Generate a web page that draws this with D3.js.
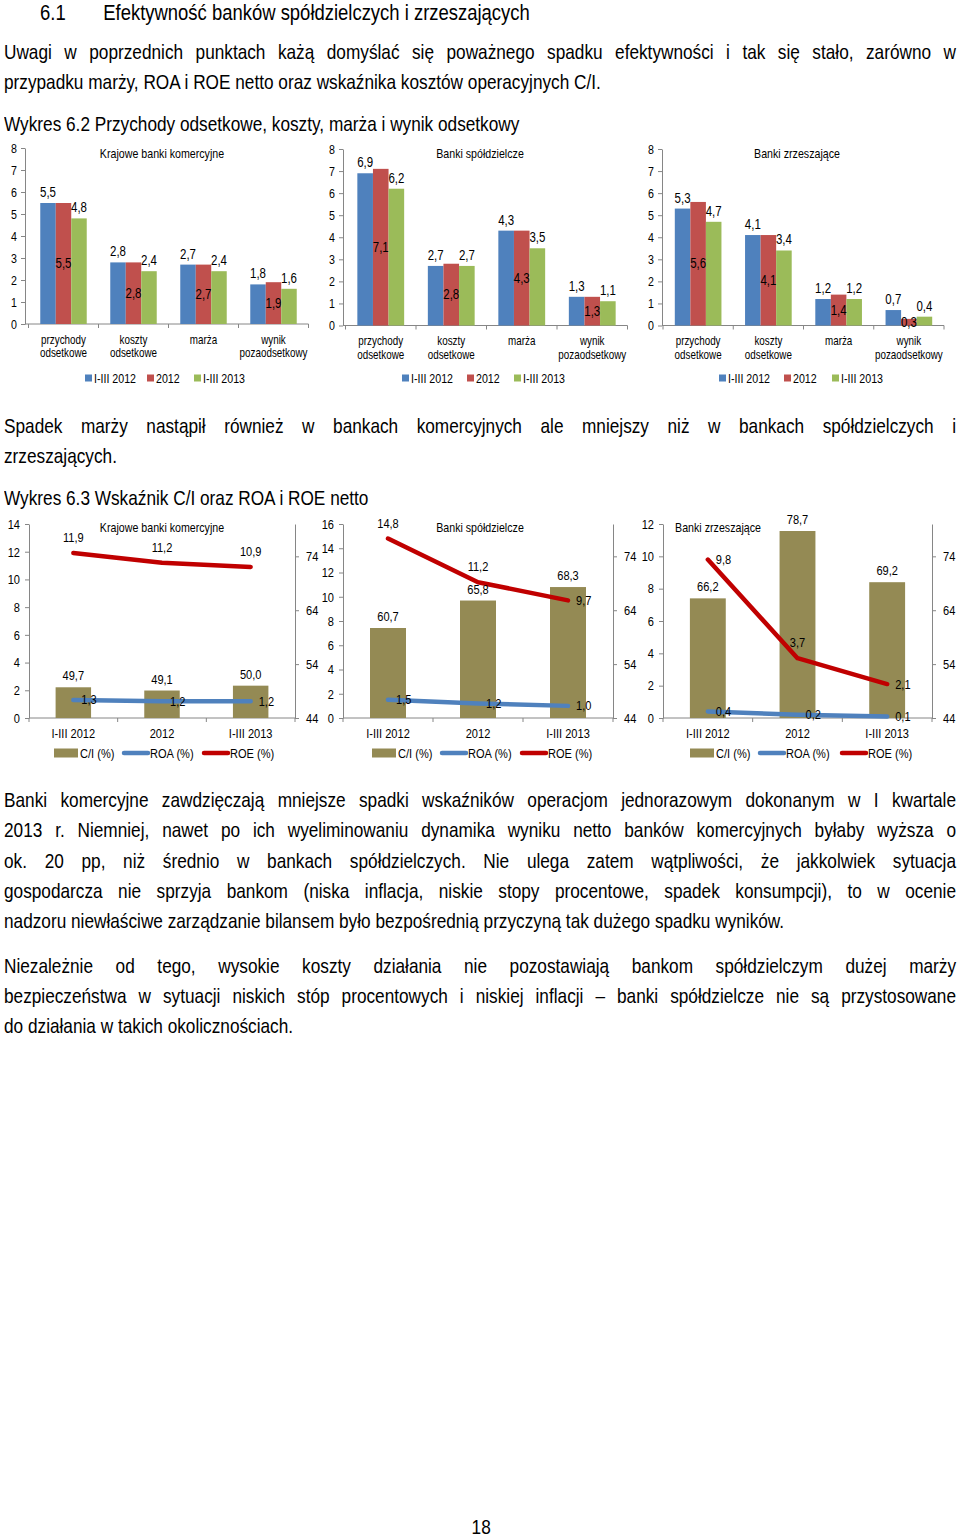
<!DOCTYPE html>
<html><head><meta charset="utf-8">
<script src="https://cdn.jsdelivr.net/npm/d3@7"></script>
<style>
body{margin:0;background:#fff;}
#page{position:relative;width:960px;height:1537px;overflow:hidden;background:#fff;font-family:"Liberation Sans",Arial,sans-serif;color:#000;}
.ln{position:absolute;left:4px;width:1161px;font-size:21px;line-height:30px;white-space:nowrap;transform:scaleX(0.82);transform-origin:0 0;}
.j{text-align:justify;text-align-last:justify;white-space:normal;}
svg{position:absolute;left:0;top:0;}
</style>
</head><body>
<div id="page">
<div class="ln" style="top:0px;font-size:22.5px;line-height:26px;height:26px;"><span style="position:absolute;left:44px">6.1</span><span style="position:absolute;left:121px">Efektywność banków spółdzielczych i zrzeszających</span></div>
<div class="ln j" style="top:37px">Uwagi w poprzednich punktach każą domyślać się poważnego spadku efektywności i tak się stało, zarówno w</div>
<div class="ln" style="top:67px">przypadku marży, ROA i ROE netto oraz wskaźnika kosztów operacyjnych C/I.</div>
<div class="ln" style="top:109px">Wykres 6.2 Przychody odsetkowe, koszty, marża i wynik odsetkowy</div>
<div class="ln j" style="top:411px">Spadek marży nastąpił również w bankach komercyjnych ale mniejszy niż w bankach spółdzielczych i</div>
<div class="ln" style="top:441px">zrzeszających.</div>
<div class="ln" style="top:483px">Wykres 6.3 Wskaźnik C/I oraz ROA i ROE netto</div>
<div class="ln j" style="top:785px">Banki komercyjne zawdzięczają mniejsze spadki wskaźników operacjom jednorazowym dokonanym w I kwartale</div>
<div class="ln j" style="top:815px">2013 r. Niemniej, nawet po ich wyeliminowaniu dynamika wyniku netto banków komercyjnych byłaby wyższa o</div>
<div class="ln j" style="top:846px">ok. 20 pp, niż średnio w bankach spółdzielczych. Nie ulega zatem wątpliwości, że jakkolwiek sytuacja</div>
<div class="ln j" style="top:876px">gospodarcza nie sprzyja bankom (niska inflacja, niskie stopy procentowe, spadek konsumpcji), to w ocenie</div>
<div class="ln" style="top:906px">nadzoru niewłaściwe zarządzanie bilansem było bezpośrednią przyczyną tak dużego spadku wyników.</div>
<div class="ln j" style="top:951px">Niezależnie od tego, wysokie koszty działania nie pozostawiają bankom spółdzielczym dużej marży</div>
<div class="ln j" style="top:981px">bezpieczeństwa w sytuacji niskich stóp procentowych i niskiej inflacji – banki spółdzielcze nie są przystosowane</div>
<div class="ln" style="top:1011px">do działania w takich okolicznościach.</div>
<div class="ln" style="top:1518px;left:459px;width:54px;text-align:center;line-height:18px;height:18px;">18</div>
</div>
<script>
// ---------- DATA ----------
const groups = ["przychody odsetkowe", "koszty odsetkowe", "marża", "wynik pozaodsetkowy"];
const groupLabelLines = [["przychody", "odsetkowe"], ["koszty", "odsetkowe"], ["marża"], ["wynik", "pozaodsetkowy"]];
const seriesNames = ["I-III 2012", "2012", "I-III 2013"];
const panelTitles = ["Krajowe banki komercyjne", "Banki spółdzielcze", "Banki zrzeszające"];
const komercyjne = [[5.5, 2.8, 2.7, 1.8], [5.5, 2.8, 2.7, 1.9], [4.8, 2.4, 2.4, 1.6]];
const spoldzielcze = [[6.9, 2.7, 4.3, 1.3], [7.1, 2.8, 4.3, 1.3], [6.2, 2.7, 3.5, 1.1]];
const zrzeszajace = [[5.3, 4.1, 1.2, 0.7], [5.6, 4.1, 1.4, 0.3], [4.7, 3.4, 1.2, 0.4]];
const topTicks = [0, 1, 2, 3, 4, 5, 6, 7, 8];

const periods = ["I-III 2012", "2012", "I-III 2013"];
const ciKom = [49.7, 49.1, 50.0], roaKom = [1.3, 1.2, 1.2], roeKom = [11.9, 11.2, 10.9];
const ciSp = [60.7, 65.8, 68.3], roaSp = [1.5, 1.2, 1.0], roeSp = [14.8, 11.2, 9.7];
const ciZrz = [66.2, 78.7, 69.2], roaZrz = [0.4, 0.2, 0.1], roeZrz = [9.8, 3.7, 2.1];
const leftMax = [14, 16, 12];
const rightTicks = [44, 54, 64, 74];
const rightDomain = [44, 80];
const legendNames = ["C/I (%)", "ROA (%)", "ROE (%)"];

// ---------- LAYOUT / STYLE ----------
const FONT = '"Liberation Sans",Arial,sans-serif';
const SX = 0.82; // narrow (Arial Narrow-like) horizontal scale
const AX = '#868686';
const seriesColors = ['#4F81BD', '#C0504D', '#9BBB59'];
const labelMode = ['above', 'middle', 'above'];
const topLayout = [
  {axisX: 25, band: [28.5, 308.5], y0: 324, y8: 148, titleX: 162, legendX: [85, 147, 194]},
  {axisX: 343, band: [345.5, 627.5], y0: 325.5, y8: 149, titleX: 480, legendX: [402, 467, 514]},
  {axisX: 662, band: [663, 944], y0: 325.5, y8: 149, titleX: 797, legendX: [719, 784, 832]}
];
const botLayout = [
  {left: 29, right: 295, titleX: 162, legendX: [54, 124, 204]},
  {left: 343, right: 613, titleX: 480, legendX: [372, 442, 522]},
  {left: 663, right: 932, titleX: 718, legendX: [690, 760, 842]}
];
const roeLabelPos = [['above', 'above', 'above'], ['above', 'above', 'right'], ['right', 'above', 'right']];
const OLIVE = '#948A54', ROA_C = '#4F81BD', ROE_C = '#C00000';
const fmt = v => d3.format('.1f')(v).replace('.', ',');
const tr = (x, y) => `translate(${x},${y}) scale(${SX},1)`;

const svg = d3.select('#page').append('svg').attr('width', 960).attr('height', 1537)
  .style('font-family', FONT);

function T(g, x, y, s, size, anchor) {
  return g.append('text').attr('transform', tr(x, y)).attr('text-anchor', anchor || 'start')
    .attr('font-size', size).text(s);
}
function styleAxis(g, size) {
  g.select('.domain').attr('stroke', AX);
  g.selectAll('.tick line').attr('stroke', AX);
  g.selectAll('.tick text').attr('fill', '#000').attr('font-size', size).attr('font-family', FONT)
    .each(function () {
      const t = d3.select(this);
      const x = +t.attr('x');
      t.attr('x', x / SX).attr('transform', `scale(${SX},1)`);
    });
}

// ---------- TOP CHARTS ----------
[komercyjne, spoldzielcze, zrzeszajace].forEach((data, pi) => {
  const L = topLayout[pi];
  const g = svg.append('g');
  const y = d3.scaleLinear().domain([0, 8]).range([L.y0, L.y8]);
  const x0 = d3.scaleBand().domain(groups).range(L.band).paddingInner(0.336).paddingOuter(0.168);
  const x1 = d3.scaleBand().domain(d3.range(seriesNames.length)).range([0, x0.bandwidth()]);

  const ya = g.append('g').attr('transform', `translate(${L.axisX},0)`)
    .call(d3.axisLeft(y).tickValues(topTicks).tickSize(4).tickSizeOuter(0).tickPadding(4).tickFormat(d3.format('d')));
  styleAxis(ya, 13);

  g.append('line').attr('x1', L.axisX).attr('x2', L.band[1]).attr('y1', L.y0).attr('y2', L.y0).attr('stroke', AX);
  g.selectAll('.xt').data(d3.range(groups.length + 1)).join('line')
    .attr('x1', k => L.band[0] + k * x0.step()).attr('x2', k => L.band[0] + k * x0.step())
    .attr('y1', L.y0).attr('y2', L.y0 + 4).attr('stroke', AX);

  data.forEach((vals, s) => {
    g.selectAll('.b' + s).data(vals).join('rect')
      .attr('x', (v, j) => x0(groups[j]) + x1(s))
      .attr('y', v => y(v))
      .attr('width', x1.bandwidth())
      .attr('height', v => y(0) - y(v))
      .attr('fill', seriesColors[s]);
  });
  data.forEach((vals, s) => {
    g.selectAll('.l' + s).data(vals).join('text')
      .attr('transform', (v, j) => tr(x0(groups[j]) + x1(s) + x1.bandwidth() / 2,
        labelMode[s] === 'above' ? y(v) - 6 : (y(v) + y(0)) / 2 + 4.5))
      .attr('text-anchor', 'middle').attr('font-size', 14)
      .text(v => fmt(v));
  });

  groupLabelLines.forEach((lines, j) => {
    lines.forEach((t, li) => {
      T(g, x0(groups[j]) + x0.bandwidth() / 2, L.y0 + 19.5 + li * 13.5, t, 12, 'middle');
    });
  });

  T(g, L.titleX, 157.5, panelTitles[pi], 13, 'middle');

  seriesNames.forEach((n, s) => {
    g.append('rect').attr('x', L.legendX[s]).attr('y', 374.5).attr('width', 7).attr('height', 7).attr('fill', seriesColors[s]);
    T(g, L.legendX[s] + 9, 382.5, n, 13);
  });
});

// ---------- BOTTOM CHARTS ----------
const botData = [[ciKom, roaKom, roeKom], [ciSp, roaSp, roeSp], [ciZrz, roaZrz, roeZrz]];
botData.forEach(([ci, roa, roe], pi) => {
  const L = botLayout[pi];
  const g = svg.append('g');
  const yL = d3.scaleLinear().domain([0, leftMax[pi]]).range([718, 524]);
  const yR = d3.scaleLinear().domain(rightDomain).range([718, 524]);
  const xc = d3.scaleBand().domain(periods).range([L.left, L.right]);
  const xb = d3.scaleBand().domain(periods).range([L.left, L.right]).paddingInner(0.6).paddingOuter(0.3);
  const cx = p => xc(p) + xc.bandwidth() / 2;

  const la = g.append('g').attr('transform', `translate(${L.left},0)`)
    .call(d3.axisLeft(yL).tickValues(d3.range(0, leftMax[pi] + 1, 2)).tickSize(4).tickSizeOuter(0).tickPadding(5).tickFormat(d3.format('d')));
  styleAxis(la, 13.5);
  const ra = g.append('g').attr('transform', `translate(${L.right},0)`)
    .call(d3.axisRight(yR).tickValues(rightTicks).tickSize(4).tickSizeOuter(0).tickPadding(7).tickFormat(d3.format('d')));
  styleAxis(ra, 13.5);
  g.append('line').attr('x1', L.left).attr('x2', L.right).attr('y1', 718).attr('y2', 718).attr('stroke', AX);
  g.selectAll('.xt').data(d3.range(periods.length + 1)).join('line')
    .attr('x1', k => L.left + k * xc.step()).attr('x2', k => L.left + k * xc.step())
    .attr('y1', 718).attr('y2', 722).attr('stroke', AX);
  periods.forEach(p => T(g, cx(p), 737.5, p, 13.5, 'middle'));

  g.selectAll('.bar').data(ci).join('rect')
    .attr('x', (v, i) => xb(periods[i])).attr('width', xb.bandwidth())
    .attr('y', v => yR(v)).attr('height', v => yR(rightDomain[0]) - yR(v)).attr('fill', OLIVE);

  const line = d3.line().x((v, i) => cx(periods[i])).y(v => yL(v));
  g.append('path').datum(roa).attr('d', line).attr('fill', 'none').attr('stroke', ROA_C)
    .attr('stroke-width', 4.5).attr('stroke-linecap', 'round').attr('stroke-linejoin', 'round');
  g.append('path').datum(roe).attr('d', line).attr('fill', 'none').attr('stroke', ROE_C)
    .attr('stroke-width', 4.5).attr('stroke-linecap', 'round').attr('stroke-linejoin', 'round');

  g.selectAll('.cil').data(ci).join('text')
    .attr('transform', (v, i) => tr(cx(periods[i]), yR(v) - 7))
    .attr('text-anchor', 'middle').attr('font-size', 13.5).text(v => fmt(v));
  g.selectAll('.roal').data(roa).join('text')
    .attr('transform', (v, i) => tr(cx(periods[i]) + 8, yL(v) + 4.5))
    .attr('font-size', 13.5).text(v => fmt(v));
  g.selectAll('.roel').data(roe).join('text')
    .attr('transform', (v, i) => roeLabelPos[pi][i] === 'right'
      ? tr(cx(periods[i]) + 8, yL(v) + 4.5) : tr(cx(periods[i]), yL(v) - 11))
    .attr('text-anchor', (v, i) => roeLabelPos[pi][i] === 'right' ? 'start' : 'middle')
    .attr('font-size', 13.5).text(v => fmt(v));

  T(g, L.titleX, 531.5, panelTitles[pi], 13, 'middle');

  const ly = 753;
  g.append('rect').attr('x', L.legendX[0]).attr('y', ly - 4.5).attr('width', 24).attr('height', 9).attr('fill', OLIVE);
  g.append('line').attr('x1', L.legendX[1]).attr('x2', L.legendX[1] + 24).attr('y1', ly).attr('y2', ly)
    .attr('stroke', ROA_C).attr('stroke-width', 4.5).attr('stroke-linecap', 'round');
  g.append('line').attr('x1', L.legendX[2]).attr('x2', L.legendX[2] + 24).attr('y1', ly).attr('y2', ly)
    .attr('stroke', ROE_C).attr('stroke-width', 4.5).attr('stroke-linecap', 'round');
  legendNames.forEach((n, i) => T(g, L.legendX[i] + 26, ly + 4.5, n, 13.5));
});
</script>
</body></html>
